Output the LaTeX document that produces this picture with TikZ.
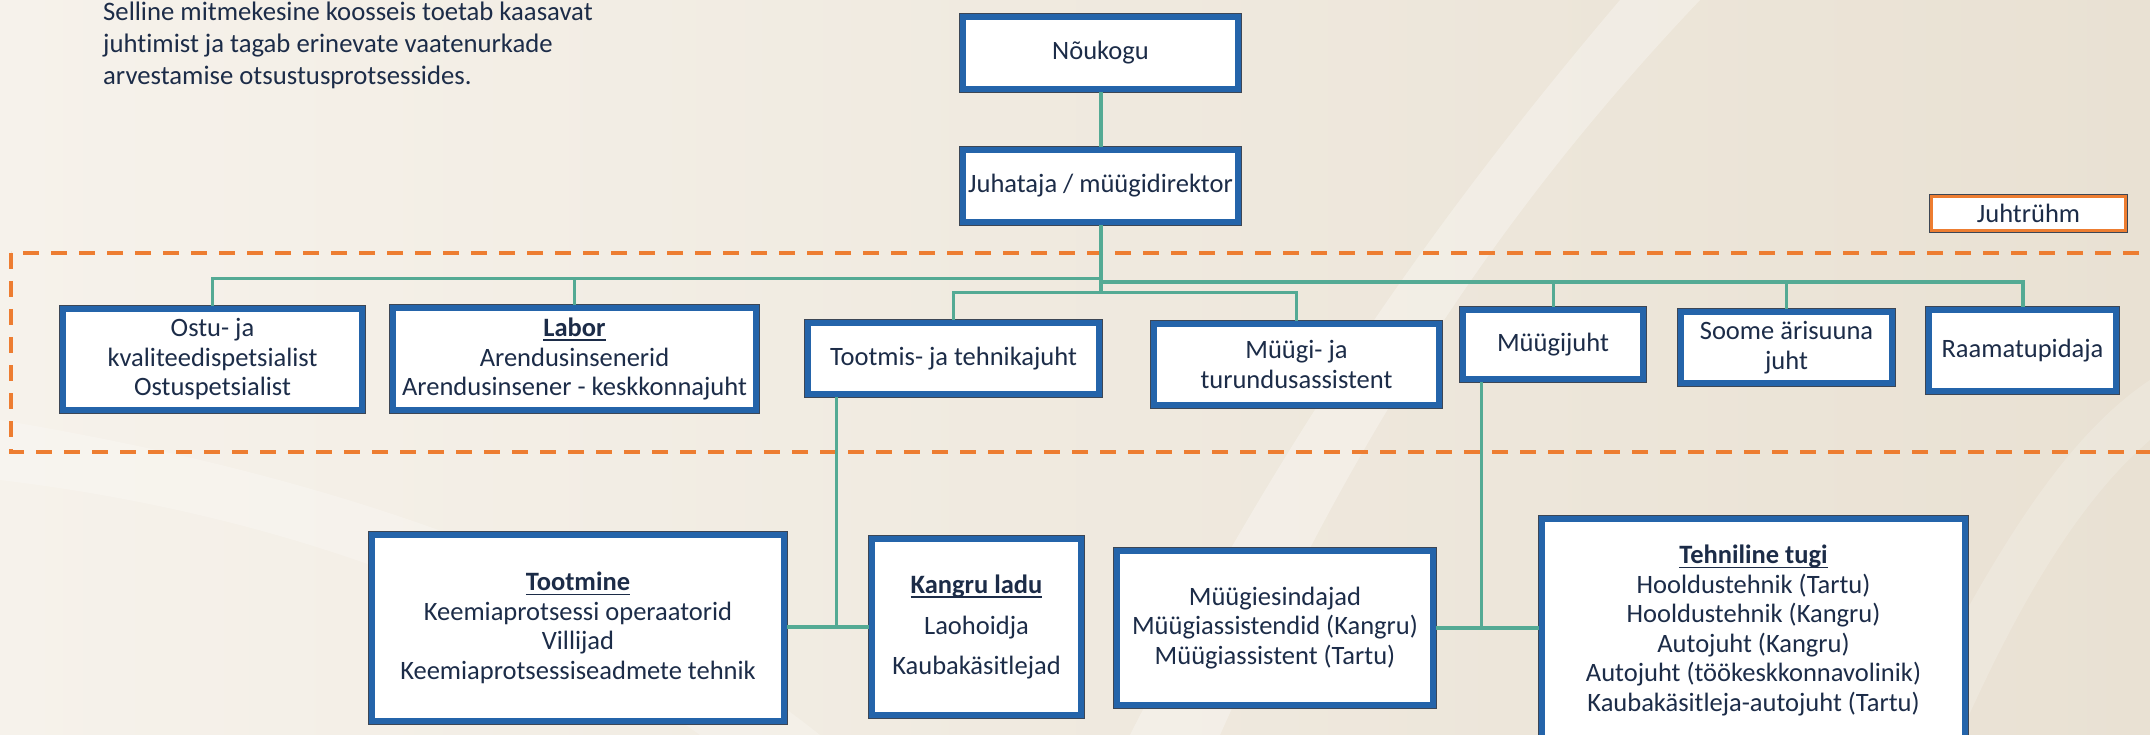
\documentclass[tikz,border=0pt]{standalone}
\usepackage{fontspec}
\setmainfont{Carlito}[Ligatures={NoCommon}]
\definecolor{txt}{RGB}{28,44,72}
\definecolor{bblue}{RGB}{36,100,170}
\definecolor{bdark}{RGB}{60,70,85}
\definecolor{conn}{RGB}{84,170,148}
\definecolor{orng}{RGB}{237,125,49}
\definecolor{bgl}{RGB}{246,242,235}
\definecolor{bgr}{RGB}{233,225,211}
\newcommand{\hd}[1]{\setbox0\hbox{\textbf{#1}}\rlap{\rule[-4.5pt]{\wd0}{1.6pt}}\box0}
\tikzset{
  every node/.style={font=\fontsize{26.5}{29.5}\selectfont, text=txt},
  box/.style={draw=bblue, line width=6pt, fill=white, inner sep=0pt, outer sep=3pt, align=center,
    preaction={draw=bdark, line width=7.5pt}},
  obox/.style={draw=orng, line width=3pt, fill=white, inner sep=0pt, outer sep=1.5pt, align=center,
    preaction={draw=bdark, line width=4.5pt}},
  cn/.style={draw=conn, line width=4pt},
  cnt/.style={draw=conn, line width=3pt},
  para/.style={anchor=base west, inner sep=0pt, font=\fontsize{26.7}{32}\selectfont}
}
\begin{document}
\begin{tikzpicture}[x=1pt,y=-1pt]
\useasboundingbox (0,0) rectangle (2150,735);
% background
\fill[left color=bgl, right color=bgr] (0,0) rectangle (2150,735);
\fill[white, opacity=0.30] (1130,735) .. controls (1290,420) and (1450,200) .. (1620,0) -- (1700,0) .. controls (1510,200) and (1360,420) .. (1220,735) -- cycle;
\fill[white, opacity=0.22] (0,420) .. controls (300,470) and (600,560) .. (820,735) -- (700,735) .. controls (500,590) and (250,510) .. (0,480) -- cycle;
\fill[white, opacity=0.18] (1900,735) .. controls (1990,560) and (2060,440) .. (2150,380) -- (2150,440) .. controls (2080,500) and (2020,600) .. (1960,735) -- cycle;

% text paragraph
\node[para] (p1) at (103,21) {Selline mitmekesine koosseis toetab kaasavat};
\node[para] (p2) at (103,53) {juhtimist ja tagab erinevate vaatenurkade};
\node[para] (p3) at (103,85) {arvestamise otsustusprotsessides.};

% dashed group frame
\draw[orng, line width=4pt, dash pattern=on 16pt off 12pt] (11,253) rectangle (2220,452);

% nodes
\node[box, minimum width=275pt, minimum height=72pt] (nouk) at (1100.5,53) {Nõukogu};
\node[box, minimum width=275pt, minimum height=72pt] (juh) at (1100.5,186) {Juhataja / müügidirektor};
\node[obox, minimum width=194pt, minimum height=34pt] (juhtr) at (2028.5,213.5) {Juhtrühm};

\node[box, minimum width=299pt, minimum height=101pt] (ostu) at (212.5,359.5) {Ostu- ja\\kvaliteedispetsialist\\Ostuspetsialist};
\node[box, minimum width=363pt, minimum height=102pt] (labor) at (574.5,359) {\hd{Labor}\\Arendusinsenerid\\Arendusinsener - keskkonnajuht};
\node[box, minimum width=291pt, minimum height=71pt] (tt) at (953.5,358.5) {Tootmis- ja tehnikajuht};
\node[box, minimum width=285pt, minimum height=81pt] (mta) at (1296.5,364.5) {Müügi- ja\\turundusassistent};
\node[box, minimum width=180pt, minimum height=69pt] (mjuht) at (1553,344.5) {Müügijuht};
\node[box, minimum width=211pt, minimum height=71pt] (soome) at (1786.5,347.5) {Soome ärisuuna\\juht};
\node[box, minimum width=187pt, minimum height=81pt] (raam) at (2022.5,350.5) {Raamatupidaja};

\node[box, minimum width=412pt, minimum height=186pt] (tootm) at (578,628) {\hd{Tootmine}\\Keemiaprotsessi operaatorid\\Villijad\\Keemiaprotsessiseadmete tehnik};
\node[box, minimum width=209pt, minimum height=176pt] (kangru) at (976.5,627) {\hd{Kangru ladu}\\[11pt]Laohoidja\\[11pt]Kaubakäsitlejad};
\node[box, minimum width=316pt, minimum height=154pt] (mesin) at (1275,628) {Müügiesindajad\\Müügiassistendid (Kangru)\\Müügiassistent (Tartu)};
\node[box, minimum width=423pt, minimum height=223pt] (tehn) at (1753.5,630.5) {\hd{Tehniline tugi}\\Hooldustehnik (Tartu)\\Hooldustehnik (Kangru)\\Autojuht (Kangru)\\Autojuht (töökeskkonnavolinik)\\Kaubakäsitleja-autojuht (Tartu)};

% connectors
\coordinate (jb) at (juh.south |- 0,293);
\coordinate (tj) at (836,627);
\coordinate (mj) at (1481,628);
\draw[cn] (nouk.south) -- (juh.north);
\draw[cn] (juh.south) -- (jb);
\draw[cnt] (ostu.north) |- (juh.south |- 0,279);
\draw[cnt] (labor.north) -- (labor.north |- 0,279);
\draw[cn] (juh.south |- 0,282) -| (raam.north);
\draw[cnt] (mjuht.north) -- (mjuht.north |- 0,282);
\draw[cnt] (soome.north) -- (soome.north |- 0,282);
\draw[cnt] (tt.north) |- (mta.north |- 0,293) -- (mta.north);
\draw[cnt] (tt.south -| tj) -- (tj);
\draw[cn] (tootm.east |- tj) -- (kangru.west |- tj);
\draw[cnt] (mjuht.south -| mj) -- (mj);
\draw[cn] (mesin.east |- mj) -- (tehn.west |- mj);
\end{tikzpicture}
\end{document}
